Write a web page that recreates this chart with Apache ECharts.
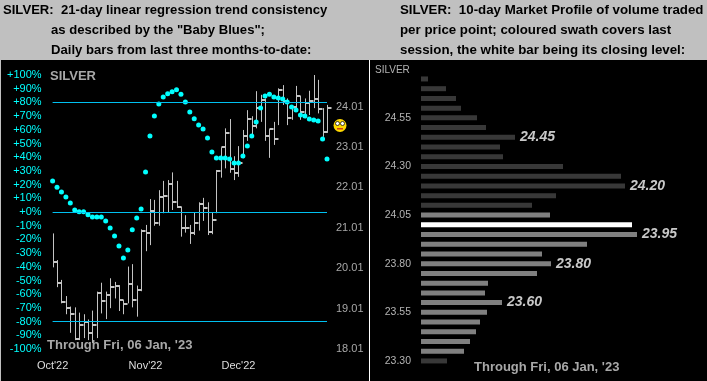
<!DOCTYPE html>
<html>
<head>
<meta charset="utf-8">
<title>Silver</title>
<script src="https://cdn.jsdelivr.net/npm/echarts@6/dist/echarts.min.js"></script>
<style>
	html, body { margin: 0; padding: 0; background: #000; overflow: hidden; }
	#main { width: 707px; height: 381px; }
</style>
</head>
<body>
<div id="main"></div>
<script>
// left panel: daily bars, 3 Oct 2022 onwards (one entry per session)
const days = Array.from({ length: 63 }, (_, i) => i);
const monthLabels = { 0: "Oct'22", 21: "Nov'22", 42: "Dec'22" };
const highs = [
	20.87, 20.21, 19.72, 19.32, 19.06, 19.04, 18.91, 18.87, 18.74, 18.96, 19.43, 19.65, 19.43, 19.76, 19.67, 19.59,
	19.22, 20.05, 20.11, 19.58, 20.97, 21.08, 21.72, 21.7, 21.94, 22.17, 22.19, 22.38, 22.17, 21.53, 21.32, 21.08,
	21.38, 21.64, 21.75, 21.64, 21.39, 22.44, 23.0, 23.47, 23.7, 22.78, 23.03, 23.43, 23.92, 23.77, 24.39, 24.3,
	24.21, 23.45, 23.63, 24.46, 24.54, 24.21, 24.02, 24.52, 24.27, 24.21, 24.4, 24.79, 24.67, 23.97, 24.05
];
const lows = [
	20.03, 19.54, 19.14, 18.87, 18.41, 18.23, 18.23, 18.28, 18.23, 18.16, 18.28, 18.89, 18.75, 19.02, 19.26, 18.95,
	18.87, 19.14, 19.04, 18.81, 19.44, 20.43, 20.58, 21.06, 21.06, 21.37, 21.38, 21.45, 21.5, 20.79, 20.89, 20.61,
	20.83, 20.94, 21.18, 20.83, 20.85, 21.37, 22.25, 22.48, 22.37, 22.19, 22.27, 22.73, 23.16, 23.28, 23.47, 23.63,
	23.16, 22.74, 23.06, 23.55, 24.05, 23.55, 23.68, 23.92, 23.68, 23.72, 23.8, 23.97, 23.84, 23.26, 23.36
];
const closes = [
	20.17, 19.65, 19.17, 19.02, 18.87, 18.26, 18.6, 18.68, 18.4, 18.6, 19.4, 19.2, 19.34, 19.55, 19.57, 19.22,
	19.12, 19.61, 19.22, 19.47, 20.94, 20.89, 21.43, 21.13, 21.78, 21.8, 22.09, 21.65, 21.53, 21.01, 21.0, 20.89,
	21.12, 21.61, 21.49, 20.91, 21.2, 22.42, 23.0, 23.36, 22.46, 22.37, 22.62, 23.28, 23.7, 23.53, 23.98, 24.17,
	23.28, 23.45, 23.2, 24.42, 24.15, 23.73, 24.0, 24.27, 23.88, 24.09, 24.15, 24.19, 23.95, 23.39, 23.98
];
const babyBlues = [
	22.6, 18, 14.6, 11, 6.6, 1.5, 0.2, 0.2, -2, -3.6, -3.6, -3.6, -6.6, -11.7, -17.5, -24.8,
	-33.6, -27.7, -13, -4.4, 2.2, 29.2, 55.5, 70, 78.8, 84, 86.4, 87.8, 89.3, 86, 80.3, 73,
	68, 63.5, 60.6, 54, 43.8, 39.4, 39.4, 39.4, 38.7, 35.8, 35.8, 40.9, 48.2, 55.5, 65.7, 75.9,
	84.7, 86, 84, 83.2, 82.5, 80.3, 76.6, 74.5, 70.8, 70, 67.9, 67.2, 66.4, 53.3, 38.7
];
const priceTicks = [18.01, 19.01, 20.01, 21.01, 22.01, 23.01, 24.01];
const refLevels = [80, 0, -80];

// right panel: volume per price point, top to bottom
const profilePrices = [
	'24.75', '24.70', '24.65', '24.60', '24.55', '24.50', '24.45', '24.40', '24.35', '24.30',
	'24.25', '24.20', '24.15', '24.10', '24.05', '24.00', '23.95', '23.90', '23.85', '23.80',
	'23.75', '23.70', '23.65', '23.60', '23.55', '23.50', '23.45', '23.40', '23.35', '23.30'
];
const profileVolume = [
	7, 25, 35, 40, 56, 65, 94, 79, 82, 142,
	200, 204, 135, 111, 129, 211, 216, 166, 121, 130,
	116, 67, 64, 81, 66, 59, 55, 49, 43, 26
];
const profileTicks = ['24.55', '24.30', '24.05', '23.80', '23.55', '23.30'];
const calloutPrices = ['24.45', '24.20', '23.95', '23.80', '23.60'];
const swathPrices = profilePrices.slice(14, 29);
const closePrice = '24.00';

const FONT = '"Liberation Sans", Arial, sans-serif';

function profileColor(price) {
	if (price === closePrice) return '#ffffff';
	return swathPrices.includes(price) ? '#808080' : '#383838';
}

function renderDailyBar(params, api) {
	const i = api.value(0);
	const top = api.coord([i, api.value(1)]);
	const bottom = api.coord([i, api.value(2)]);
	const close = api.coord([i, api.value(3)]);
	const x = Math.round(top[0]) + 0.5;
	const yClose = Math.round(close[1]);
	return {
		type: 'group',
		children: [
			{
				type: 'line',
				shape: { x1: x, y1: top[1], x2: x, y2: bottom[1] },
				style: { stroke: '#c4c4c4', lineWidth: 1 }
			},
			{
				type: 'line',
				shape: { x1: x, y1: yClose, x2: x + 4, y2: yClose },
				style: { stroke: '#c4c4c4', lineWidth: 2 }
			}
		]
	};
}

function headerText(text, x, y, size) {
	return {
		type: 'text',
		x,
		y,
		z: 10,
		style: { text, fill: '#000', font: 'bold ' + size + 'px ' + FONT, textVerticalAlign: 'middle' }
	};
}

function panelText(text, x, y, font, fill) {
	return {
		type: 'text',
		x,
		y,
		z: 20,
		style: { text, fill, font: font + ' ' + FONT, textVerticalAlign: 'middle' }
	};
}

const myChart = echarts.init(document.getElementById('main'));

const option = {
	animation: false,
	backgroundColor: '#000',
	grid: [
		{ left: 52.6, top: 75, width: 274.4, height: 274 },
		{ left: 421, top: 74.1, width: 260, height: 291.7 }
	],
	xAxis: [
		{
			type: 'category',
			gridIndex: 0,
			data: days,
			boundaryGap: false,
			axisLine: { show: false },
			axisTick: { show: false },
			axisLabel: {
				interval: i => i in monthLabels,
				formatter: (value, i) => monthLabels[i] || '',
				color: '#dddddd',
				fontFamily: FONT,
				fontSize: 11,
				margin: 11
			}
		},
		{
			type: 'value',
			gridIndex: 1,
			min: 0,
			max: 260,
			show: false
		}
	],
	yAxis: [
		{
			type: 'value',
			gridIndex: 0,
			min: -100,
			max: 100,
			interval: 10,
			splitLine: { show: false },
			axisLine: { show: false },
			axisTick: { show: false },
			axisLabel: {
				color: '#00ffff',
				fontFamily: FONT,
				fontSize: 11,
				margin: 11,
				formatter: v => (v >= 0 ? '+' : '') + v + '%'
			}
		},
		{
			type: 'value',
			gridIndex: 0,
			position: 'right',
			min: 18.01,
			max: 24.79,
			splitLine: { show: false },
			axisLine: { show: false },
			axisTick: { show: false },
			axisLabel: {
				customValues: priceTicks,
				color: '#a8a8a8',
				fontFamily: FONT,
				fontSize: 11,
				margin: 9,
				formatter: v => v.toFixed(2)
			}
		},
		{
			type: 'category',
			gridIndex: 1,
			inverse: true,
			data: profilePrices,
			axisLine: { show: false },
			axisTick: { show: false },
			axisLabel: {
				interval: 0,
				color: '#b4b4b4',
				fontFamily: FONT,
				fontSize: 10.5,
				margin: 10,
				formatter: v => (profileTicks.includes(v) ? v : '')
			}
		}
	],
	series: [
		{
			type: 'custom',
			xAxisIndex: 0,
			yAxisIndex: 1,
			renderItem: renderDailyBar,
			encode: { x: 0, y: [1, 2, 3] },
			data: days.map(i => [i, highs[i], lows[i], closes[i]]),
			z: 2
		},
		{
			type: 'line',
			xAxisIndex: 0,
			yAxisIndex: 0,
			data: [],
			silent: true,
			markLine: {
				silent: true,
				symbol: 'none',
				label: { show: false },
				lineStyle: { color: '#00c0f0', width: 1, type: 'solid' },
				data: refLevels.map(v => ({ yAxis: v }))
			},
			z: 3
		},
		{
			type: 'scatter',
			xAxisIndex: 0,
			yAxisIndex: 0,
			symbolSize: 5,
			itemStyle: { color: '#00ffff', opacity: 1 },
			data: days.map(i => [i, babyBlues[i]]),
			z: 4
		},
		{
			type: 'bar',
			xAxisIndex: 1,
			yAxisIndex: 2,
			barWidth: 5,
			data: profilePrices.map((price, i) => ({
				value: profileVolume[i],
				itemStyle: { color: profileColor(price) },
				label: {
					show: calloutPrices.includes(price),
					position: 'right',
					distance: 5,
					formatter: price,
					color: '#c8c8c8',
					fontFamily: FONT,
					fontSize: 14,
					fontWeight: 'bold',
					fontStyle: 'italic'
				}
			}))
		}
	],
	graphic: [
		{ type: 'rect', shape: { x: 0, y: 0, width: 707, height: 60 }, style: { fill: '#c0c0c0' }, z: 1 },
		{ type: 'rect', shape: { x: 0, y: 60, width: 1, height: 321 }, style: { fill: '#c0c0c0' }, z: 1 },
		{ type: 'rect', shape: { x: 369, y: 60, width: 1, height: 321 }, style: { fill: '#ffffff' }, z: 1 },
		headerText('SILVER:  21-day linear regression trend consistency', 3, 10, 13.1),
		headerText('as described by the "Baby Blues";', 51, 30, 13.1),
		headerText('Daily bars from last three months-to-date:', 51, 50, 13.1),
		headerText('SILVER:  10-day Market Profile of volume traded', 400, 10, 13.3),
		headerText('per price point; coloured swath covers last', 400, 30, 13.3),
		headerText('session, the white bar being its closing level:', 400, 50, 13.3),
		panelText('SILVER', 50, 76, 'bold 13px', '#a8a8a8'),
		panelText("Through Fri, 06 Jan, '23", 47, 345, 'bold 13px', '#a8a8a8'),
		panelText('SILVER', 375, 70, '10px', '#b4b4b4'),
		panelText("Through Fri, 06 Jan, '23", 474, 367, 'bold 13px', '#a8a8a8'),
		// worried face beside the last bar
		{ type: 'circle', shape: { cx: 340, cy: 125.5, r: 6.5 }, style: { fill: '#ffd800' }, z: 20 },
		{ type: 'circle', shape: { cx: 337.5, cy: 123.5, r: 2 }, style: { fill: '#fff', stroke: '#000', lineWidth: 0.7 }, z: 21 },
		{ type: 'circle', shape: { cx: 342.5, cy: 123.5, r: 2 }, style: { fill: '#fff', stroke: '#000', lineWidth: 0.7 }, z: 21 },
		{ type: 'rect', shape: { x: 337, y: 128, width: 6, height: 1.5 }, style: { fill: '#d04010' }, z: 21 }
	]
};

myChart.setOption(option);
</script>
</body>
</html>
